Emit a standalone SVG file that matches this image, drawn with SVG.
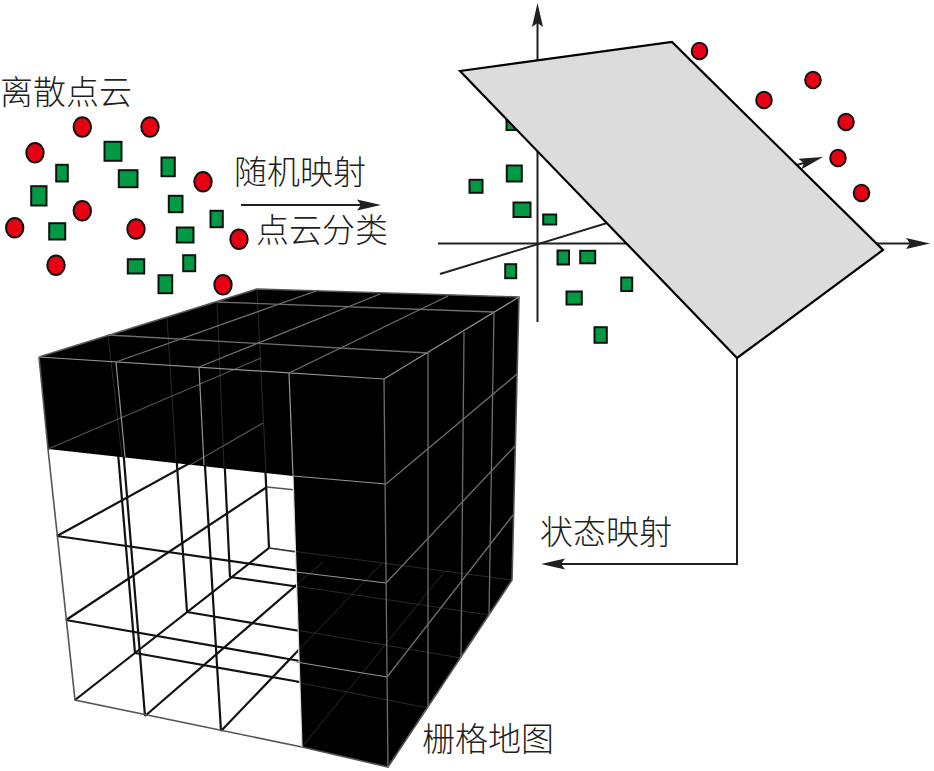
<svg xmlns="http://www.w3.org/2000/svg" width="934" height="771" viewBox="0 0 934 771">
<style>
.t{font-family:"Noto Sans CJK SC","Noto Sans CJK JP",sans-serif;font-size:33px;font-weight:300;fill:#231f20}
.r{fill:#e60012;stroke:#111;stroke-width:2}
.g{fill:#009944;stroke:#111;stroke-width:2}
.ax{fill:none;stroke:#231f20;stroke-width:2}
.w{fill:none;stroke:#111;stroke-width:2.2}
.n{fill:none;stroke:#555;stroke-width:1.6}
.l{fill:none;stroke:#949494;stroke-width:1.2}
.m{fill:none;stroke:#6e6e6e;stroke-width:1.3}
.f{fill:none;stroke:#2a2a2a;stroke-width:1}
.p{fill:#dcdcdc;stroke:#000;stroke-width:2.2;stroke-linejoin:miter}
</style>
<defs>
<marker id="ah" markerUnits="userSpaceOnUse" markerWidth="24" markerHeight="12" viewBox="0 0 24 12" refX="14" refY="6" orient="auto"><path d="M0,0.5 L24,6 L0,11.5 L4,6 Z" fill="#231f20"/></marker>
</defs>

<g id="cloud-points">
<ellipse class="r" cx="82.3" cy="127" rx="8.7" ry="9.7"/>
<ellipse class="r" cx="150" cy="127" rx="8.7" ry="9.7"/>
<ellipse class="r" cx="35" cy="152.7" rx="8.7" ry="9.7"/>
<ellipse class="r" cx="203" cy="181.7" rx="8.7" ry="9.7"/>
<ellipse class="r" cx="82.3" cy="210.7" rx="8.7" ry="9.7"/>
<ellipse class="r" cx="14.7" cy="227.7" rx="8.7" ry="9.7"/>
<ellipse class="r" cx="136" cy="229" rx="8.7" ry="9.7"/>
<ellipse class="r" cx="239" cy="239.3" rx="8.7" ry="9.7"/>
<ellipse class="r" cx="56" cy="265.3" rx="8.7" ry="9.7"/>
<ellipse class="r" cx="223" cy="284.7" rx="8.7" ry="9.7"/>
<rect class="g" x="104.5" y="141.8" width="17" height="19"/>
<rect class="g" x="118.8" y="170.2" width="18.7" height="17"/>
<rect class="g" x="161.5" y="157.5" width="13.3" height="18.7"/>
<rect class="g" x="56.2" y="164.8" width="11.6" height="16.7"/>
<rect class="g" x="31.2" y="186.2" width="15.3" height="19.3"/>
<rect class="g" x="168.8" y="195.8" width="13.7" height="16.4"/>
<rect class="g" x="210.5" y="210.8" width="12.3" height="16.4"/>
<rect class="g" x="49.2" y="223.2" width="16" height="16.3"/>
<rect class="g" x="176.8" y="227.5" width="16.7" height="15"/>
<rect class="g" x="183.2" y="255.2" width="12" height="16"/>
<rect class="g" x="127.8" y="259.2" width="16.4" height="14.3"/>
<rect class="g" x="158.5" y="275.2" width="13.7" height="18"/>
</g>

<g id="classified-points">
<rect class="g" x="506.5" y="116" width="14" height="14"/>
<rect class="g" x="469.5" y="179.8" width="13" height="13"/>
<rect class="g" x="506.8" y="165.5" width="15" height="16"/>
<rect class="g" x="513.5" y="202.5" width="17" height="14.5"/>
<rect class="g" x="543.2" y="214.5" width="13" height="10"/>
<rect class="g" x="557.5" y="250.5" width="11.5" height="14"/>
<rect class="g" x="580.2" y="250.8" width="15" height="12.5"/>
<rect class="g" x="505.2" y="264.2" width="11" height="14"/>
<rect class="g" x="621.2" y="277.5" width="11" height="13.5"/>
<rect class="g" x="566.5" y="291.5" width="15.3" height="13"/>
<rect class="g" x="594.5" y="327.2" width="12.3" height="15.6"/>
<ellipse class="r" cx="699.5" cy="51" rx="7.8" ry="8.3"/>
<ellipse class="r" cx="764" cy="100" rx="7.8" ry="8.3"/>
<ellipse class="r" cx="813" cy="80" rx="7.8" ry="8.3"/>
<ellipse class="r" cx="846" cy="122" rx="7.8" ry="8.3"/>
<ellipse class="r" cx="838" cy="158" rx="7.8" ry="8.3"/>
<ellipse class="r" cx="861.5" cy="193" rx="7.8" ry="8.3"/>
</g>

<g id="connectors">
<path class="ax" d="M241,205 H371" marker-end="url(#ah)"/>
<path class="ax" d="M537.5,322 V13" marker-end="url(#ah)"/>
<path class="ax" d="M438,243.5 H920" marker-end="url(#ah)"/>
<path class="ax" d="M440,274 L813.4,160" marker-end="url(#ah)"/>
<path class="ax" d="M737,358 V564 H551" marker-end="url(#ah)"/>
</g>

<g id="plane">
<polygon class="p" points="460,71 672,42 883,250 737,358"/>
</g>

<g id="grid-map">
<g id="grid-open-lines">
<path class="w" d="M57,536 L300,571 M66,620 L300,661"/>
<path class="w" d="M135,653 L300,682 M187,612 L300,631 M230,577 L300,587"/>
<path class="w" d="M75,700 L269,548 M145,716 L323,562 M221,731 L382,563 M302,747 L445,571"/>
<path class="w" d="M48,449 L261,358 M57,536 L263,423 M66,620 L267,487"/>
<path class="w" d="M108,335 L135,653 M167,318 L187,612 M217,302 L230,577 M257,289 L269,548"/>
<path class="w" d="M116,362 L145,716 M199,367 L221,731"/>
<path class="n" d="M267,487 L296,490 M269,548 L296,552"/>
<path class="n" d="M48,449 L75,700 L302,747"/>
</g>
<polygon id="grid-solid" fill="#000" points="39,357 257,289 519,297 512,580 388,767 302,747 293,476 48,449"/>
<g id="grid-faint-lines">
<path class="f" d="M108,335 L122,457 M167,318 L176,461 M217,302 L224,467 M257,289 L266,473"/>
<path class="f" d="M269,548 L512,580"/>
<path class="f" d="M296,682 L428,708 M296,630 L461,658 M296,586 L489,615"/>
<path class="f" d="M296,585 L323,562 M296,653 L382,563 M302,747 L445,571"/>
<path class="m" d="M48,449 L261,358 M190,465 L263,423" stroke-opacity=".75"/>
</g>
<g id="grid-visible-lines">
<path class="n" d="M39,357 L257,289 L519,297 L512,580 L388,767 L302,747"/>
<path class="n" d="M39,357 L48,449"/>
<path class="l" d="M39,357 L384,379 L519,297"/>
<path class="l" d="M116,362 L125,457 M199,367 L204,465 M289,373 L293,476"/>
<path stroke="#ddd" stroke-width="1.2" fill="none" d="M293,476 L302,747"/>
<path class="l" d="M293,476 L386,484"/>
<path class="l" d="M296,572 L386,583 M296,662 L387,677"/>
<path class="m" d="M384,379 L388,767"/>
<path class="m" d="M116,362 L316,291 M199,367 L380,294 M289,373 L448,296"/>
<path class="m" d="M108,335 L428,353 M217,302 L494,312"/>
<path class="m" d="M428,353 L428,708 M464,332 L461,658 M494,312 L489,615"/>
<path class="m" d="M386,484 L517,374 M386,583 L515,446 M387,677 L513,515"/>
</g>
</g>

<g id="labels">
<text class="t" x="0" y="104">离散点云</text>
<text class="t" x="234" y="184">随机映射</text>
<text class="t" x="256" y="242">点云分类</text>
<text class="t" x="540" y="544">状态映射</text>
<text class="t" x="422" y="751">栅格地图</text>
</g>
</svg>
